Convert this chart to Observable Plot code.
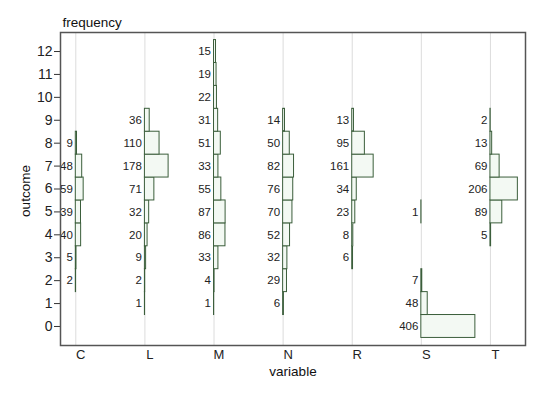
<!DOCTYPE html>
<html>
<head>
<meta charset="utf-8">
<script src="https://cdn.jsdelivr.net/npm/d3@7"></script>
<script src="https://cdn.jsdelivr.net/npm/@observablehq/plot@0.6"></script>
<style>
  html, body { margin: 0; padding: 0; background: white; }
</style>
</head>
<body>
<div id="chart"></div>
<script>
// Data
const variables = ["C", "L", "M", "N", "R", "S", "T"];
const yTicks = [0, 1, 2, 3, 4, 5, 6, 7, 8, 9, 10, 11, 12];

const outcomesC = [2, 3, 4, 5, 6, 7, 8];
const freqC     = [2, 5, 40, 39, 59, 48, 9];
const outcomesL = [1, 2, 3, 4, 5, 6, 7, 8, 9];
const freqL     = [1, 2, 9, 20, 32, 71, 178, 110, 36];
const outcomesM = [1, 2, 3, 4, 5, 6, 7, 8, 9, 10, 11, 12];
const freqM     = [1, 4, 33, 86, 87, 55, 33, 51, 31, 22, 19, 15];
const outcomesN = [1, 2, 3, 4, 5, 6, 7, 8, 9];
const freqN     = [6, 29, 32, 52, 70, 76, 82, 50, 14];
const outcomesR = [3, 4, 5, 6, 7, 8, 9];
const freqR     = [6, 8, 23, 34, 161, 95, 13];
const outcomesS = [0, 1, 2, 5];
const freqS     = [406, 48, 7, 1];
const outcomesT = [4, 5, 6, 7, 8, 9];
const freqT     = [5, 89, 206, 69, 13, 2];

const series = [
  [outcomesC, freqC], [outcomesL, freqL], [outcomesM, freqM], [outcomesN, freqN],
  [outcomesR, freqR], [outcomesS, freqS], [outcomesT, freqT]
];

const rows = [];
series.forEach(([outs, freqs], i) => {
  outs.forEach((o, j) => rows.push({variable: variables[i], i, outcome: o, frequency: freqs[j]}));
});

// layout: spacing between facet baselines, in frequency units
const SP = 519.2;
const bases = variables.map((v, i) => i * SP);

const chart = Plot.plot({
  width: 540,
  height: 393,
  marginLeft: 60,
  marginRight: 15,
  marginTop: 32,
  marginBottom: 48,
  style: {fontFamily: "'Liberation Sans', Arial, sans-serif", background: "white", color: "#222"},
  x: {domain: [-115, 3378.6]},
  y: {domain: [-0.83, 12.83]},
  marks: [
    Plot.ruleX(bases, {stroke: "#dcdcdc", strokeWidth: 1}),
    Plot.rect(rows, {
      x1: d => d.i * SP,
      x2: d => d.i * SP + d.frequency,
      y1: d => d.outcome - 0.5,
      y2: d => d.outcome + 0.5,
      fill: "#f3f9f3",
      stroke: "#3b5e3b",
      strokeWidth: 1
    }),
    Plot.text(rows, {
      x: d => d.i * SP,
      y: "outcome",
      text: d => String(d.frequency),
      textAnchor: "end",
      dx: -3,
      fontSize: 11.5,
      fill: "#222"
    }),
    Plot.axisY({ticks: yTicks, tickSize: 6, tickPadding: 2, fontSize: 14, label: null, stroke: "#333"}),
    Plot.axisX({
      ticks: bases,
      tickFormat: x => variables[Math.round(x / SP)],
      tickSize: 0,
      tickPadding: 4,
      fontSize: 13,
      dx: 5,
      label: null
    }),
    Plot.frame({stroke: "#555", strokeWidth: 1.5}),
    Plot.text(["frequency"], {frameAnchor: "top-left", textAnchor: "start", lineAnchor: "middle", dx: 2, dy: -10, fontSize: 13.5, fill: "#111"}),
    Plot.text(["outcome"], {frameAnchor: "left", textAnchor: "middle", lineAnchor: "middle", rotate: -90, dx: -35, dy: 2, fontSize: 13.5, fill: "#111"}),
    Plot.text(["variable"], {frameAnchor: "bottom", textAnchor: "middle", lineAnchor: "middle", dy: 26, fontSize: 13.5, fill: "#111"})
  ]
});

document.getElementById("chart").appendChild(chart);
</script>
</body>
</html>
